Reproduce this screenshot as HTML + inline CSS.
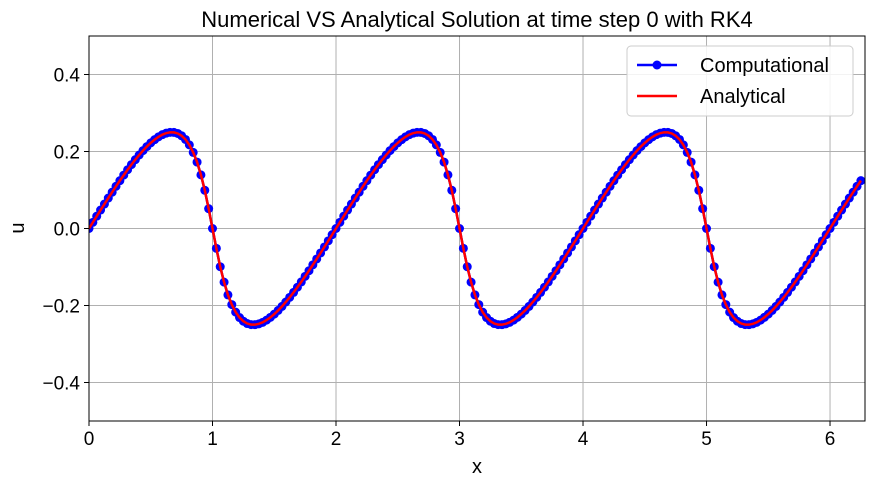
<!DOCTYPE html>
<html><head><meta charset="utf-8"><style>
html,body{margin:0;padding:0;background:#fff;}
svg{display:block;font-family:"Liberation Sans",Arial,sans-serif;}
</style></head><body>
<svg id="chart" width="874" height="486" viewBox="0 0 874 486">
<g id="grid"></g>
<g id="series"></g>
<rect x="89" y="36" width="776" height="385" fill="none" stroke="#000" stroke-width="1"/>
<g id="xticks"></g>
<g id="yticks"></g>
<text x="477" y="27" text-anchor="middle" font-size="22">Numerical VS Analytical Solution at time step 0 with RK4</text>
<text x="477" y="473" text-anchor="middle" font-size="20">x</text>
<text x="24" y="228" text-anchor="middle" font-size="20" transform="rotate(-90 24 228)">u</text>
<g>
<rect x="627" y="46" width="226" height="70" rx="4" fill="#fff" fill-opacity="0.85" stroke="#ccc"/>
<g>
<line x1="637" y1="65" x2="677" y2="65" stroke="#0000ff" stroke-width="2.5"/>
<circle cx="657" cy="65" r="4.5" fill="#0000ff"/>
<text x="700" y="72" font-size="20">Computational</text></g>
<g>
<line x1="637" y1="96" x2="677" y2="96" stroke="#ff0000" stroke-width="2.5"/>
<text x="700" y="103" font-size="20">Analytical</text></g>
</g>
</svg>
<script>
const xStep = 0.03125;
const computational = [0,.0160,.0320,.0479,.0635,.0791,.0944,.1096,.1243,.1387,.1526,.1660,.1788,.1909,.2023,.2128,.2224,.2308,.2380,.2437,.2477,.2498,.2496,.2468,.2408,.2313,.2172,.1976,.1725,.1393,.0993,.0515,0,-.0515,-.0993,-.1393,-.1725,-.1976,-.2172,-.2313,-.2408,-.2468,-.2496,-.2498,-.2477,-.2437,-.2380,-.2308,-.2224,-.2128,-.2023,-.1909,-.1788,-.1660,-.1526,-.1387,-.1243,-.1096,-.0944,-.0791,-.0635,-.0479,-.0320,-.0160,
0,.0160,.0320,.0479,.0635,.0791,.0944,.1096,.1243,.1387,.1526,.1660,.1788,.1909,.2023,.2128,.2224,.2308,.2380,.2437,.2477,.2498,.2496,.2468,.2408,.2313,.2172,.1976,.1725,.1393,.0993,.0515,0,-.0515,-.0993,-.1393,-.1725,-.1976,-.2172,-.2313,-.2408,-.2468,-.2496,-.2498,-.2477,-.2437,-.2380,-.2308,-.2224,-.2128,-.2023,-.1909,-.1788,-.1660,-.1526,-.1387,-.1243,-.1096,-.0944,-.0791,-.0635,-.0479,-.0320,-.0160,
0,.0160,.0320,.0479,.0635,.0791,.0944,.1096,.1243,.1387,.1526,.1660,.1788,.1909,.2023,.2128,.2224,.2308,.2380,.2437,.2477,.2498,.2496,.2468,.2408,.2313,.2172,.1976,.1725,.1393,.0993,.0515,0,-.0515,-.0993,-.1393,-.1725,-.1976,-.2172,-.2313,-.2408,-.2468,-.2496,-.2498,-.2477,-.2437,-.2380,-.2308,-.2224,-.2128,-.2023,-.1909,-.1788,-.1660,-.1526,-.1387,-.1243,-.1096,-.0944,-.0791,-.0635,-.0479,-.0320,-.0160,
0,.0160,.0320,.0479,.0635,.0791,.0944,.1096,.1243];
const analytical = [0,.0160,.0320,.0479,.0635,.0791,.0944,.1096,.1243,.1387,.1526,.1660,.1788,.1909,.2023,.2128,.2224,.2308,.2380,.2437,.2477,.2498,.2496,.2468,.2408,.2313,.2172,.1976,.1725,.1393,.0993,.0515,0,-.0515,-.0993,-.1393,-.1725,-.1976,-.2172,-.2313,-.2408,-.2468,-.2496,-.2498,-.2477,-.2437,-.2380,-.2308,-.2224,-.2128,-.2023,-.1909,-.1788,-.1660,-.1526,-.1387,-.1243,-.1096,-.0944,-.0791,-.0635,-.0479,-.0320,-.0160,
0,.0160,.0320,.0479,.0635,.0791,.0944,.1096,.1243,.1387,.1526,.1660,.1788,.1909,.2023,.2128,.2224,.2308,.2380,.2437,.2477,.2498,.2496,.2468,.2408,.2313,.2172,.1976,.1725,.1393,.0993,.0515,0,-.0515,-.0993,-.1393,-.1725,-.1976,-.2172,-.2313,-.2408,-.2468,-.2496,-.2498,-.2477,-.2437,-.2380,-.2308,-.2224,-.2128,-.2023,-.1909,-.1788,-.1660,-.1526,-.1387,-.1243,-.1096,-.0944,-.0791,-.0635,-.0479,-.0320,-.0160,
0,.0160,.0320,.0479,.0635,.0791,.0944,.1096,.1243,.1387,.1526,.1660,.1788,.1909,.2023,.2128,.2224,.2308,.2380,.2437,.2477,.2498,.2496,.2468,.2408,.2313,.2172,.1976,.1725,.1393,.0993,.0515,0,-.0515,-.0993,-.1393,-.1725,-.1976,-.2172,-.2313,-.2408,-.2468,-.2496,-.2498,-.2477,-.2437,-.2380,-.2308,-.2224,-.2128,-.2023,-.1909,-.1788,-.1660,-.1526,-.1387,-.1243,-.1096,-.0944,-.0791,-.0635,-.0479,-.0320,-.0160,
0,.0160,.0320,.0479,.0635,.0791,.0944,.1096,.1243];
const xTicks = [0,1,2,3,4,5,6];
const yTicks = [-0.4,-0.2,0.0,0.2,0.4];
const yTickLabels = ["\u22120.4","\u22120.2","0.0","0.2","0.4"];

const NS = "http://www.w3.org/2000/svg";
const X0=89, X1=865, Y0=421, Y1=36, XMAX=2*Math.PI, YMIN=-0.5, YMAX=0.5;
function sx(v){return X0+(v/XMAX)*(X1-X0);}
function sy(v){return Y0-(v-YMIN)/(YMAX-YMIN)*(Y0-Y1);}
function mk(tag,attrs,parent){const e=document.createElementNS(NS,tag);for(const k in attrs)e.setAttribute(k,attrs[k]);parent.appendChild(e);return e;}
const grid=document.getElementById('grid'), xg=document.getElementById('xticks'), yg=document.getElementById('yticks'), sg=document.getElementById('series');
xTicks.forEach(t=>{
  const gl=mk('line',{x1:sx(t),x2:sx(t),y1:Y1,y2:Y0,stroke:'#b0b0b0','stroke-width':1},grid);
  
  
  mk('line',{x1:sx(t),x2:sx(t),y1:Y0,y2:Y0+5,stroke:'#000'},xg);
  const tx=mk('text',{x:sx(t),y:Y0+24,'text-anchor':'middle','font-size':19},xg);
  tx.textContent=String(t);
  
  
});
yTicks.forEach((t,i)=>{
  const gl=mk('line',{x1:X0,x2:X1,y1:sy(t),y2:sy(t),stroke:'#b0b0b0','stroke-width':1},grid);
  
  
  mk('line',{x1:X0-5,x2:X0,y1:sy(t),y2:sy(t),stroke:'#000'},yg);
  const tx=mk('text',{x:X0-9,y:sy(t)+7,'text-anchor':'end','font-size':19},yg);
  tx.textContent=yTickLabels[i];
  
  
});
const clip=mk('clipPath',{id:'pc'},sg);mk('rect',{x:X0,y:Y1,width:X1-X0,height:Y0-Y1},clip);
const cg=mk('g',{'clip-path':'url(#pc)'},sg);
const cp=computational.map((v,i)=>sx(i*xStep).toFixed(2)+','+sy(v).toFixed(2)).join(' ');
const cl=mk('polyline',{points:cp,fill:'none',stroke:'#0000ff','stroke-width':2.5},cg);


computational.forEach((v,i)=>{
  const c=mk('circle',{cx:sx(i*xStep),cy:sy(v),r:4.5,fill:'#0000ff'},cg);
  
  
});
const ap=analytical.map((v,i)=>sx(i*xStep).toFixed(2)+','+sy(v).toFixed(2)).join(' ');
const al=mk('polyline',{points:ap,fill:'none',stroke:'#ff0000','stroke-width':2.5},cg);


</script>
</body></html>
